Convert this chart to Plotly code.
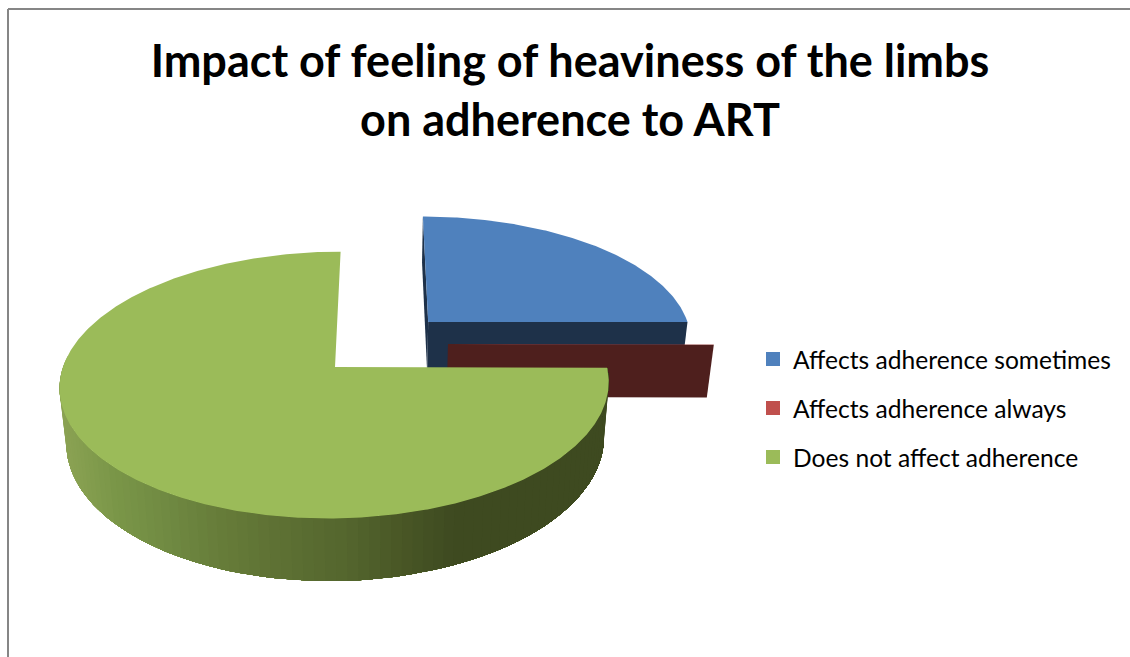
import math
import plotly.graph_objects as go

# Chart data
categories = ["Affects adherence sometimes", "Affects adherence always", "Does not affect adherence"]
shares = [25.0, 0.1, 74.9]
top_colors = ["#4f81bd", "#c0504d", "#9bbb59"]
cut_colors = ["#1e3149", "#4e1f1d", "#56692f"]
title_text = "Impact of feeling of heaviness of the limbs<br>on adherence to ART"

# Scene: exploded offset of each slice in the plane of the pie (radius units)
explode_x = [0.178, 0.2485, -0.1728]
explode_y = [-0.36, -0.18, 0.0]
RADIUS, VANISH_X, HORIZON_Y, HEIGHT = 272, 382, -601, 968
PERSP, DEPTH, SHRINK = 0.1353, 76, 0.021

# Shading of the rim, by screen x
rim_x = [58, 110, 160, 210, 270, 340, 400, 450, 620]
rim_rgb = [(140, 163, 84), (122, 150, 72), (112, 138, 66), (103, 125, 58),
           (94, 113, 52), (84, 102, 46), (72, 86, 37), (62, 74, 32), (62, 74, 32)]


def project(wx, wy, z=0.0):
    f = 1 / (1 - PERSP * wy)
    s = 1 - SHRINK * z
    return VANISH_X + RADIUS * wx * f * s, HORIZON_Y + (HEIGHT + DEPTH * z) * f * s


def polar(i, angle_deg, z=0.0):
    a = math.radians(angle_deg)
    return project(explode_x[i] + math.sin(a), explode_y[i] - math.cos(a), z)


def apex(i, z=0.0):
    return project(explode_x[i], explode_y[i], z)


def rim_color(x):
    for j in range(len(rim_x) - 1):
        if x <= rim_x[j + 1]:
            t = max(0, (x - rim_x[j]) / (rim_x[j + 1] - rim_x[j]))
            c = [round(p + (q - p) * t) for p, q in zip(rim_rgb[j], rim_rgb[j + 1])]
            return f"rgb({c[0]},{c[1]},{c[2]})"
    return f"rgb{rim_rgb[-1]}"


def poly(fig, pts, color):
    xs = [p[0] for p in pts] + [pts[0][0]]
    ys = [p[1] for p in pts] + [pts[0][1]]
    fig.add_trace(go.Scatter(x=xs, y=ys, mode="lines", fill="toself", fillcolor=color,
                             line=dict(color=color, width=0), hoverinfo="skip", showlegend=False))


total = sum(shares)
bounds = [0.0]
for v in shares:
    bounds.append(bounds[-1] + 360 * v / total)

fig = go.Figure()


def top_face(i):
    n = max(2, int((bounds[i + 1] - bounds[i]) * 2))
    arc = [polar(i, bounds[i] + (bounds[i + 1] - bounds[i]) * k / n) for k in range(n + 1)]
    poly(fig, [apex(i)] + arc, top_colors[i])


def cut_face(i, angle):
    poly(fig, [apex(i), polar(i, angle), polar(i, angle, 1), apex(i, 1)], cut_colors[i])


# Blue slice
cut_face(0, bounds[0])
cut_face(0, bounds[1])
top_face(0)
# Red slice
cut_face(1, bounds[2])
top_face(1)
# Green slice: rim painted back to front from the far right, each band under the next
rim_end = 275
steps = 90
for k in range(steps):
    a0 = rim_end - (rim_end - bounds[2]) * k / steps
    arc = [a0 - (a0 - bounds[2]) * j / (steps - k) for j in range(steps - k + 1)]
    upper = [polar(2, a) for a in arc]
    lower = [polar(2, a, 1) for a in reversed(arc)]
    poly(fig, upper + lower, rim_color(polar(2, a0)[0]))
top_face(2)

# Legend entries
for name, color in zip(categories, top_colors):
    fig.add_trace(go.Scatter(x=[None], y=[None], mode="markers", name=name, legendgroup=name,
                             marker=dict(symbol="square", size=14, color=color)))

fig.update_xaxes(range=[0, 1130], visible=False, fixedrange=True)
fig.update_yaxes(range=[657, 0], visible=False, fixedrange=True)
fig.update_layout(
    width=1130, height=657, autosize=False,
    margin=dict(l=0, r=0, t=0, b=0),
    paper_bgcolor="white", plot_bgcolor="white",
    title=dict(text=title_text, x=570 / 1130, xanchor="center", y=1 - 77 / 657, yanchor="middle",
               font=dict(family="Lato", size=45, color="black", weight="bold")),
    legend=dict(x=753 / 1130, xanchor="left", y=1 - 408 / 657, yanchor="middle",
                font=dict(family="Lato", size=24.6, color="black"),
                tracegroupgap=14, itemclick=False, itemdoubleclick=False, bgcolor="rgba(0,0,0,0)"),
    shapes=[
        dict(type="line", x0=8, x1=8, y0=9, y1=657, line=dict(color="#868686", width=2)),
        dict(type="line", x0=8, x1=1130, y0=9, y1=9, line=dict(color="#868686", width=2)),
    ],
)
fig.write_html("out.html", config={"displayModeBar": False},
               post_script="document.body.style.margin='0';")
